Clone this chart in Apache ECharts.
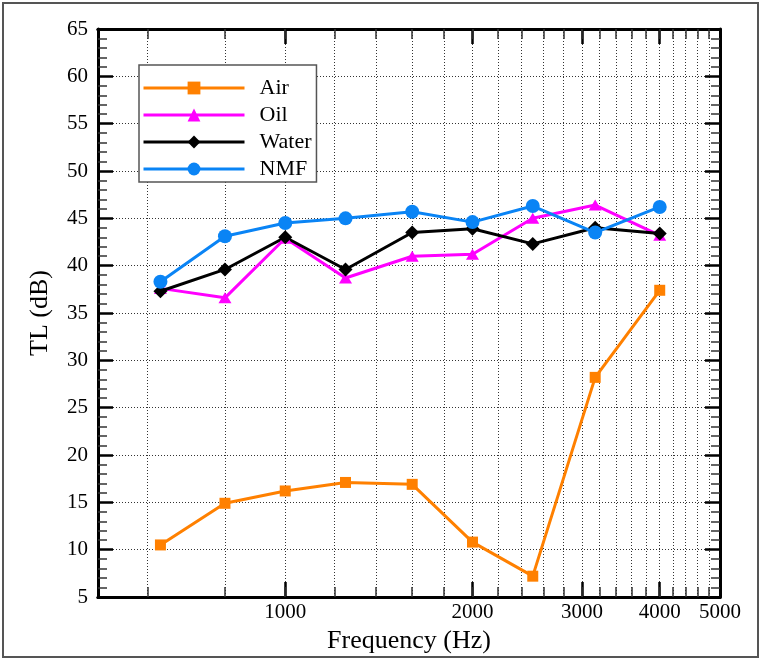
<!DOCTYPE html>
<html>
<head>
<meta charset="utf-8">
<script src="https://cdn.jsdelivr.net/npm/echarts@6/dist/echarts.min.js"></script>
<style>
  html, body { margin: 0; padding: 0; background: #fff; }
  #chart { width: 762px; height: 661px; }
</style>
</head>
<body>
<div id="chart"></div>
<script>
// values
const freqs = [630, 800, 1000, 1250, 1600, 2000, 2500, 3150, 4000];
const air = [10.5, 14.9, 16.2, 17.1, 16.9, 10.8, 7.2, 28.2, 37.4];
const oil = [37.6, 36.6, 42.9, 38.7, 41.0, 41.2, 45.0, 46.4, 43.2];
const water = [37.3, 39.6, 43.0, 39.6, 43.5, 43.9, 42.3, 44.0, 43.4];
const nmf = [38.3, 43.1, 44.5, 45.0, 45.7, 44.6, 46.3, 43.5, 46.2];

const xLabels = [1000, 2000, 3000, 4000, 5000];
const xMajor = [1000, 2000, 3000, 4000];
const xMinor = [600, 800, 1000, 1200, 1400, 1600, 1800, 2000, 2200, 2400, 2600, 2800,
  3000, 3200, 3400, 3600, 3800, 4000, 4200, 4400, 4600, 4800];

const FONT = "Liberation Serif";
const grid = { left: 98, right: 42, top: 29, bottom: 64 };

const pairs = (ys) => freqs.map((f, i) => [f, ys[i]]);

const seriesDefs = [
  { name: "Air", data: air, color: "#FF8000", symbol: "rect", size: 11 },
  { name: "Oil", data: oil, color: "#FF00FF", symbol: "triangle", size: [13, 11] },
  { name: "Water", data: water, color: "#000000", symbol: "diamond", size: 14 },
  { name: "NMF", data: nmf, color: "#0A84F5", symbol: "circle", size: 14 }
];

const gridLine = { show: true, lineStyle: { color: "#333", width: 1, type: [1, 2] } };

function xAxisBase(position, extra) {
  return Object.assign({
    type: "log",
    logBase: 10,
    min: 500,
    max: 5000,
    position: position,
    axisLine: { show: true, lineStyle: { color: "#000", width: 3 } },
    axisTick: { show: false },
    axisLabel: { show: false },
    splitLine: { show: false }
  }, extra);
}

const xAxes = [
  // data axis with labels and major ticks
  xAxisBase("bottom", {
    name: "Frequency (Hz)",
    nameLocation: "middle",
    nameGap: 22,
    nameTextStyle: { fontFamily: FONT, fontSize: 26, color: "#000" },
    axisTick: { show: true, inside: true, length: 15, customValues: xMajor,
      lineStyle: { color: "#000", width: 2.5 } },
    axisLabel: { show: true, customValues: xLabels, margin: 5,
      fontFamily: FONT, fontSize: 21, color: "#000",
      formatter: (v) => String(Math.round(v)) }
  }),
  // minor ticks + vertical grid
  xAxisBase("bottom", {
    axisTick: { show: true, inside: true, length: 10, customValues: xMinor,
      lineStyle: { color: "#333", width: 1.5 } },
    splitLine: gridLine
  }),
  xAxisBase("top", {
    axisTick: { show: true, inside: true, length: 15, customValues: xMajor,
      lineStyle: { color: "#000", width: 2.5 } }
  }),
  xAxisBase("top", {
    axisTick: { show: true, inside: true, length: 10, customValues: xMinor,
      lineStyle: { color: "#333", width: 1.5 } }
  })
];

function yAxisBase(position, extra) {
  return Object.assign({
    type: "value",
    min: 5,
    max: 65,
    interval: 5,
    position: position,
    axisLine: { show: true, lineStyle: { color: "#000", width: 3 } },
    axisTick: { show: true, inside: true, length: 15, lineStyle: { color: "#000", width: 2.5 } },
    minorTick: { show: true, splitNumber: 5, length: 9, lineStyle: { color: "#333", width: 1.5 } },
    axisLabel: { show: false },
    splitLine: { show: false }
  }, extra);
}

const yAxes = [
  yAxisBase("left", {
    name: "TL (dB)",
    nameLocation: "middle",
    nameGap: 45,
    nameTextStyle: { fontFamily: FONT, fontSize: 26, color: "#000" },
    axisLabel: { show: true, margin: 10, fontFamily: FONT, fontSize: 21, color: "#000" },
    splitLine: gridLine
  }),
  yAxisBase("right", {})
];

const chart = echarts.init(document.getElementById("chart"), null, { renderer: "canvas" });

chart.setOption({
  animation: false,
  backgroundColor: "#fff",
  grid: grid,
  xAxis: xAxes,
  yAxis: yAxes,
  legend: {
    orient: "vertical",
    left: 139,
    top: 65,
    padding: [12, 5, 2, 3],
    itemWidth: 101,
    itemHeight: 16,
    itemGap: 5,
    backgroundColor: "#fff",
    borderColor: "#555",
    borderWidth: 1.5,
    lineStyle: { width: 3 },
    textStyle: { fontFamily: FONT, fontSize: 22, color: "#000", padding: [0, 0, 0, 10], lineHeight: 21 },
    data: seriesDefs.map((s) => s.name)
  },
  graphic: [{
    type: "rect",
    shape: { x: 3, y: 3, width: 755, height: 654 },
    style: { fill: null, stroke: "#555", lineWidth: 2 },
    silent: true
  }],
  series: seriesDefs.map((s) => ({
    name: s.name,
    type: "line",
    xAxisIndex: 0,
    yAxisIndex: 0,
    data: pairs(s.data),
    symbol: s.symbol,
    symbolSize: s.size,
    color: s.color,
    lineStyle: { width: 3, color: s.color },
    itemStyle: { color: s.color }
  }))
});
</script>
</body>
</html>
